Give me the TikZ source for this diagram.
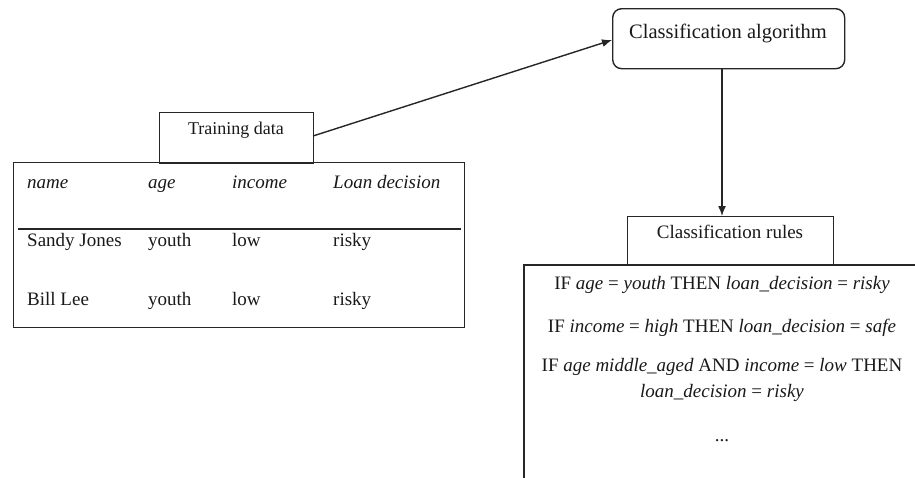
\documentclass[tikz,border=0pt]{standalone}
\usepackage{fontspec}
\setmainfont{Liberation Serif}
\usetikzlibrary{arrows.meta}
\tikzset{
  frame/.style={draw=black!85, line width=1.4pt, inner sep=0pt, anchor=north west},
  roundframe/.style={frame, rounded corners=9pt},
  txt/.style={inner sep=0pt, font=\fontsize{19}{21}\selectfont, text=black!90},
  cell/.style={txt, anchor=base west},
  rule/.style={txt, anchor=base},
  link/.style={draw=black!85, line width=1.4pt, -{Latex[length=10pt,width=8pt]}}
}
\begin{document}
\begin{tikzpicture}[x=1pt,y=-1pt]
\clip (0,0) rectangle (915,477);
\fill[white] (0,0) rectangle (915,477);

% training data: header tab and table
\node[frame, minimum width=154, minimum height=51] (train) at (159,112) {};
\node[txt, anchor=base, font=\fontsize{18}{20}\selectfont] (traintxt) at (236,134) {Training data};
\node[frame, minimum width=451, minimum height=165] (table) at (13,162) {};
\coordinate (hl) at (18,229);
\coordinate (hr) at (461,229);
\draw[draw=black!85, line width=1.4pt] (hl) -- (hr);

\node[cell] (h1) at (27,188) {\itshape name};
\node[cell] (h2) at (148,188) {\itshape age};
\node[cell] (h3) at (232,188) {\itshape income};
\node[cell] (h4) at (333,188) {\itshape Loan decision};
\node[cell] (a1) at (27,246) {Sandy Jones};
\node[cell] (a2) at (148,246) {youth};
\node[cell] (a3) at (232,246) {low};
\node[cell] (a4) at (333,246) {risky};
\node[cell] (b1) at (27,305) {Bill Lee};
\node[cell] (b2) at (148,305) {youth};
\node[cell] (b3) at (232,305) {low};
\node[cell] (b4) at (333,305) {risky};

% classification algorithm
\node[roundframe, minimum width=232, minimum height=60] (algo) at (612,8) {};
\node[txt, anchor=base, font=\fontsize{20.5}{22}\selectfont] (algotxt) at (728,38) {Classification algorithm};

% classification rules: header tab and body
\node[frame, minimum width=206, minimum height=48] (rules) at (627,216) {};
\node[txt, anchor=base] (rulestxt) at (730,238) {Classification rules};
\node[frame, line width=1.7pt, minimum width=420, minimum height=240] (body) at (523,264) {};

\node[rule] (r1) at (722,289) {IF \textit{age} = \textit{youth} THEN \textit{loan\_decision} = \textit{risky}};
\node[rule] (r2) at (722,332) {IF \textit{income} = \textit{high} THEN \textit{loan\_decision} = \textit{safe}};
\node[rule] (r3) at (722,371) {IF \textit{age middle\_aged} AND \textit{income} = \textit{low} THEN};
\node[rule] (r4) at (722,397) {\textit{loan\_decision} = \textit{risky}};
\node[rule] (r5) at (722,441) {...};

% flow arrows
\coordinate (trainout) at (313,136);
\coordinate (algoin) at (612,40);
\draw[link] (trainout) -- (algoin);
\draw[link] (algo.south -| 722,0) -- (rules.north -| 722,0);
\end{tikzpicture}
\end{document}
